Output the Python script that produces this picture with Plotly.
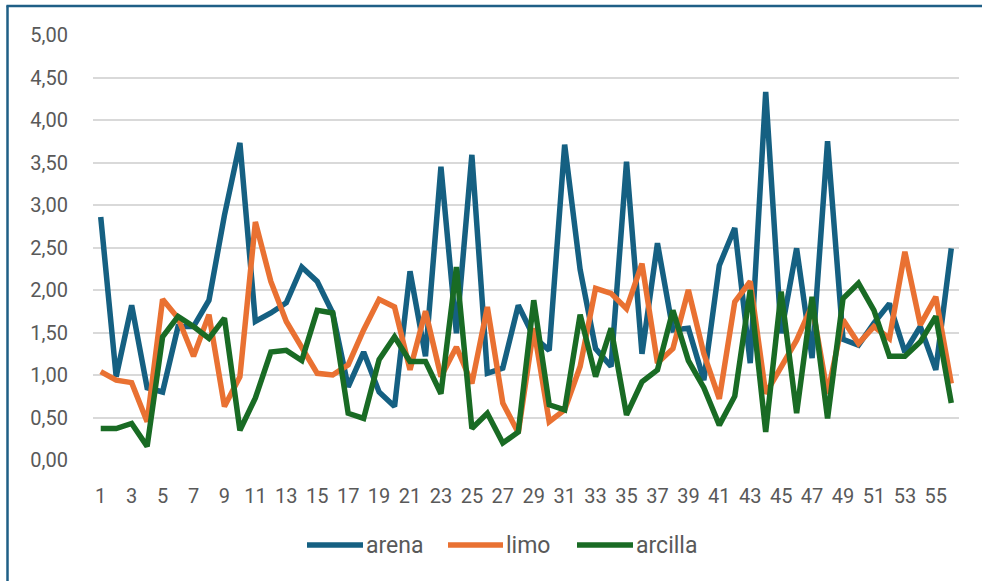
import plotly.graph_objects as go

categories = list(range(1, 57))

arena = [2.86, 0.98, 1.82, 0.85, 0.80, 1.57, 1.57, 1.88, 2.88, 3.73,
         1.63, 1.73, 1.85, 2.27, 2.10, 1.73, 0.86, 1.27, 0.80, 0.63,
         2.22, 1.22, 3.45, 1.49, 3.59, 1.02, 1.08, 1.82, 1.45, 1.29,
         3.71, 2.24, 1.31, 1.10, 3.51, 1.25, 2.55, 1.53, 1.55, 0.94,
         2.29, 2.73, 1.14, 4.33, 1.49, 2.49, 1.20, 3.75, 1.42, 1.35,
         1.61, 1.84, 1.27, 1.57, 1.06, 2.49]

limo = [1.04, 0.94, 0.91, 0.45, 1.89, 1.67, 1.22, 1.71, 0.63, 0.98,
        2.80, 2.10, 1.63, 1.31, 1.02, 1.00, 1.12, 1.53, 1.89, 1.80,
        1.06, 1.75, 0.98, 1.33, 0.90, 1.80, 0.67, 0.32, 1.55, 0.45,
        0.59, 1.10, 2.02, 1.96, 1.78, 2.31, 1.14, 1.31, 2.00, 1.25,
        0.72, 1.86, 2.10, 0.78, 1.10, 1.41, 1.82, 0.78, 1.65, 1.37,
        1.57, 1.43, 2.45, 1.59, 1.92, 0.90]

arcilla = [0.37, 0.37, 0.43, 0.16, 1.45, 1.69, 1.57, 1.43, 1.67, 0.35,
           0.73, 1.27, 1.29, 1.17, 1.76, 1.73, 0.55, 0.49, 1.18, 1.45,
           1.16, 1.16, 0.78, 2.27, 0.37, 0.55, 0.20, 0.33, 1.88, 0.65,
           0.59, 1.71, 0.98, 1.55, 0.53, 0.92, 1.06, 1.76, 1.17, 0.85,
           0.41, 0.75, 2.00, 0.33, 1.98, 0.55, 1.92, 0.49, 1.90, 2.08,
           1.76, 1.22, 1.22, 1.39, 1.69, 0.67]

series_names = ["arena", "limo", "arcilla"]
series_values = [arena, limo, arcilla]
series_colors = ["#156082", "#E97132", "#196B24"]

x_tickvals = list(range(1, 57, 2))
x_ticktext = [str(v) for v in x_tickvals]
y_tickvals = [0, 0.5, 1, 1.5, 2, 2.5, 3, 3.5, 4, 4.5, 5]
y_ticktext = [f"{v:.2f}".replace(".", ",") for v in y_tickvals]

# figure geometry (px)
W, H = 982, 581
L, R, T, B = 93, 23, 35, 121
PW, PH = W - L - R, H - T - B


def px_x(p):
    return (p - L) / PW


def px_y(p):
    return (H - B - p) / PH


fig = go.Figure()
for name, vals, col in zip(series_names, series_values, series_colors):
    fig.add_trace(go.Scatter(
        x=categories, y=vals, mode="lines", name=name,
        line=dict(color=col, width=5.5), showlegend=False,
    ))

# custom legend (line swatch + label), positioned in paper coordinates
legend_line_px = [(307, 363), (448, 503), (577, 633)]
legend_y_px = 545
shapes = []
annotations = []
for (x0, x1), name, col in zip(legend_line_px, series_names, series_colors):
    shapes.append(dict(type="line", xref="paper", yref="paper",
                       x0=px_x(x0), x1=px_x(x1), y0=px_y(legend_y_px), y1=px_y(legend_y_px),
                       line=dict(color=col, width=5.5)))
    annotations.append(dict(text=name, xref="paper", yref="paper",
                            x=px_x(x1 + 1), y=px_y(legend_y_px), xanchor="left", yanchor="middle",
                            showarrow=False, font=dict(size=23, color="#595959")))

# chart frame (left and top edges visible)
frame_col = "#1F5F86"
shapes.append(dict(type="line", xref="paper", yref="paper",
                   x0=px_x(7.5), x1=px_x(7.5), y0=px_y(590), y1=px_y(5.5),
                   line=dict(color=frame_col, width=2.5)))
shapes.append(dict(type="line", xref="paper", yref="paper",
                   x0=px_x(6.5), x1=px_x(990), y0=px_y(6), y1=px_y(6),
                   line=dict(color=frame_col, width=2.5)))

font_family = "Roboto, Inter, Arial, sans-serif"
fig.update_layout(
    width=W, height=H,
    margin=dict(l=L, r=R, t=T, b=B),
    paper_bgcolor="white", plot_bgcolor="white",
    font=dict(family=font_family, size=20, color="#595959"),
    showlegend=False,
    xaxis=dict(range=[0.5, 56.5], tickvals=x_tickvals, ticktext=x_ticktext,
               showgrid=False, zeroline=False, showline=False,
               ticks="outside", ticklen=18, tickcolor="rgba(0,0,0,0)",
               tickfont=dict(size=20, color="#595959")),
    yaxis=dict(range=[0, 5], tickvals=y_tickvals, ticktext=y_ticktext,
               showgrid=True, gridcolor="#d9d9d9", gridwidth=1.5,
               zeroline=False, showline=False,
               ticks="outside", ticklen=20, tickcolor="rgba(0,0,0,0)",
               tickfont=dict(size=20, color="#595959")),
    shapes=shapes,
    annotations=annotations,
)

fig.write_html("out.html", config={"displayModeBar": False},
               post_script="document.body.style.margin='0';")
